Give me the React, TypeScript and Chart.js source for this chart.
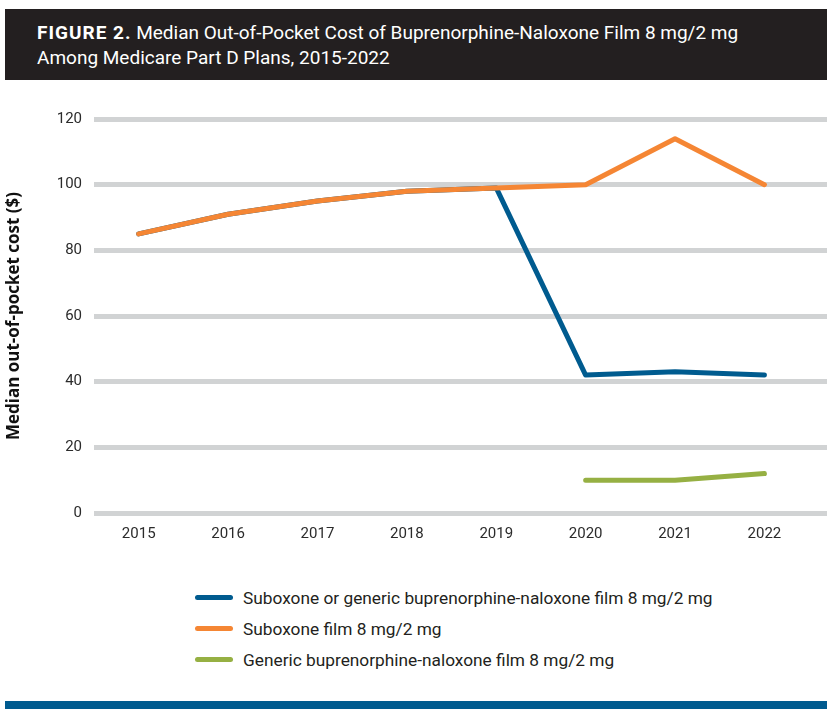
import React, { useEffect, useRef } from "react";
import { Chart, registerables } from "chart.js";

Chart.register(...registerables);

const years = [2015, 2016, 2017, 2018, 2019, 2020, 2021, 2022];
const seriesNames = [
  "Suboxone or generic buprenorphine-naloxone film 8 mg/2 mg",
  "Suboxone film 8 mg/2 mg",
  "Generic buprenorphine-naloxone film 8 mg/2 mg",
];
const combinedValues = [85, 91, 95, 98, 99, 42, 43, 42];
const suboxoneValues = [85, 91, 95, 98, 99, 100, 114, 100];
const genericValues: (number | null)[] = [null, null, null, null, null, 10, 10, 12];
const seriesColors = ["#005b8f", "#f58634", "#96b043"];
const yTickValues = [0, 20, 40, 60, 80, 100, 120];

const titleBold = "FIGURE 2.";
const titleLine1 = " Median Out-of-Pocket Cost of Buprenorphine-Naloxone Film 8 mg/2 mg";
const titleLine2 = "Among Medicare Part D Plans, 2015-2022";
const yAxisTitle = "Median out-of-pocket cost ($)";

const FONT = "Roboto, 'Noto Sans', sans-serif";

function toPoints(values: (number | null)[]) {
  return years.map((x, i) => ({ x, y: values[i] }));
}

export default function App() {
  const canvasRef = useRef<HTMLCanvasElement | null>(null);

  useEffect(() => {
    if (!canvasRef.current) return;
    const allValues = [combinedValues, suboxoneValues, genericValues];
    const orders = [1, 0, 2];
    const chart = new Chart(canvasRef.current, {
      type: "line",
      data: {
        datasets: allValues.map((vals, i) => ({
          label: seriesNames[i],
          data: toPoints(vals) as any,
          borderColor: seriesColors[i],
          backgroundColor: seriesColors[i],
          borderWidth: 5,
          pointRadius: 0,
          pointHoverRadius: 0,
          borderCapStyle: "round",
          borderJoinStyle: "round",
          tension: 0,
          order: orders[i],
          spanGaps: false,
        })),
      },
      options: {
        animation: false,
        responsive: true,
        maintainAspectRatio: false,
        layout: { padding: { top: 39, right: 0, bottom: 0, left: 0 } },
        plugins: {
          legend: { display: false },
          tooltip: { enabled: false },
        },
        scales: {
          x: {
            type: "linear",
            min: 2014.5,
            max: 2022.7,
            grid: { display: false, drawTicks: false },
            border: { display: false },
            afterBuildTicks: (scale: any) => {
              scale.ticks = years.map((v) => ({ value: v }));
            },
            afterFit: (scale: any) => {
              scale.height = 40;
            },
            ticks: {
              autoSkip: false,
              maxRotation: 0,
              padding: 12,
              color: "#2b2b2b",
              font: { family: FONT, size: 15 },
              callback: (v: any) => String(v),
            },
          },
          y: {
            min: 0,
            max: 120,
            afterBuildTicks: (scale: any) => {
              scale.ticks = yTickValues.map((v) => ({ value: v }));
            },
            afterFit: (scale: any) => {
              scale.width = 94;
            },
            grid: { color: "#d1d3d4", lineWidth: 5, drawTicks: false },
            border: { display: false },
            ticks: {
              padding: 12,
              color: "#2b2b2b",
              font: { family: FONT, size: 15 },
            },
            title: {
              display: true,
              text: yAxisTitle,
              color: "#111111",
              font: { family: "'Open Sans', sans-serif", size: 17, weight: "bold" },
              padding: { top: 4, bottom: 4 },
            },
          },
        },
      } as any,
    });
    return () => chart.destroy();
  }, []);

  return (
    <div style={{ position: "relative", width: 827, height: 713, fontFamily: FONT }}>
      <style>{`body{margin:0;}`}</style>
      <div
        style={{
          position: "absolute",
          left: 5,
          top: 9,
          width: 822,
          height: 71,
          background: "#231f20",
          color: "#ffffff",
          boxSizing: "border-box",
          paddingLeft: 32,
          paddingTop: 11,
          fontSize: 19,
          lineHeight: "25px",
          fontFamily: FONT,
          whiteSpace: "nowrap",
        }}
      >
        <div>
          <span style={{ fontWeight: 700, letterSpacing: 1 }}>{titleBold}</span>
          {titleLine1}
        </div>
        <div>{titleLine2}</div>
      </div>
      <div style={{ position: "absolute", left: 0, top: 80, width: 827, height: 473 }}>
        <canvas ref={canvasRef} />
      </div>
      <div style={{ position: "absolute", left: 195, top: 582 }}>
        {seriesNames.map((name, i) => (
          <div
            key={name}
            style={{ display: "flex", alignItems: "center", height: 31, color: "#231f20", fontSize: 17.3, whiteSpace: "nowrap" }}
          >
            <span
              style={{
                display: "inline-block",
                width: 38,
                height: 5,
                borderRadius: 3,
                background: seriesColors[i],
                marginRight: 10,
              }}
            />
            <span>{name}</span>
          </div>
        ))}
      </div>
      <div
        style={{
          position: "absolute",
          left: 5,
          top: 701,
          width: 822,
          height: 8,
          background: "#005b8f",
        }}
      />
    </div>
  );
}
